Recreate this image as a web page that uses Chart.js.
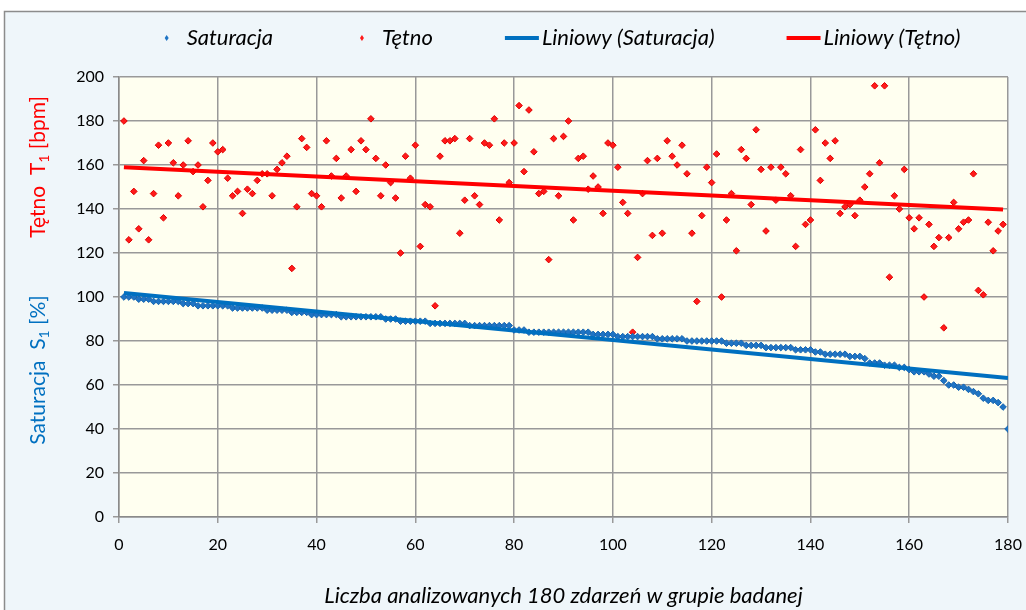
<!DOCTYPE html>
<html>
<head>
<meta charset="utf-8">
<script src="https://cdn.jsdelivr.net/npm/chart.js@4/dist/chart.umd.min.js"></script>
<style>
  html, body { margin: 0; padding: 0; background: #fff; }
</style>
</head>
<body>
<canvas id="myChart" width="1026" height="610"></canvas>
<script>
// numer zdarzenia 1..180
const events = Array.from({ length: 180 }, (_, i) => i + 1);

// Saturacja S1 [%]
const saturacja = [
    100, 100, 100, 99, 99, 99, 98, 98, 98, 98, 98, 98, 97, 97, 97, 96, 96, 96, 96, 96,
    96, 96, 95, 95, 95, 95, 95, 95, 95, 94, 94, 94, 94, 94, 93, 93, 93, 93, 92, 92,
    92, 92, 92, 92, 91, 91, 91, 91, 91, 91, 91, 91, 91, 90, 90, 90, 89, 89, 89, 89,
    89, 89, 88, 88, 88, 88, 88, 88, 88, 88, 87, 87, 87, 87, 87, 87, 87, 87, 87, 85,
    85, 85, 84, 84, 84, 84, 84, 84, 84, 84, 84, 84, 84, 84, 84, 83, 83, 83, 83, 83,
    82, 82, 82, 82, 82, 82, 82, 82, 81, 81, 81, 81, 81, 81, 80, 80, 80, 80, 80, 80,
    80, 80, 79, 79, 79, 79, 78, 78, 78, 78, 77, 77, 77, 77, 77, 77, 76, 76, 76, 76,
    75, 75, 74, 74, 74, 74, 74, 73, 73, 73, 72, 70, 70, 70, 69, 69, 69, 68, 68, 67,
    66, 66, 66, 65, 64, 64, 62, 60, 60, 59, 59, 58, 57, 56, 54, 53, 53, 52, 50, 40
];

// Tętno T1 [bpm]
const tetno = [
    180, 126, 148, 131, 162, 126, 147, 169, 136, 170, 161, 146, 160, 171, 157, 160, 141, 153, 170, 166,
    167, 154, 146, 148, 138, 149, 147, 153, 156, 156, 146, 158, 161, 164, 113, 141, 172, 168, 147, 146,
    141, 171, 155, 163, 145, 155, 167, 148, 171, 167, 181, 163, 146, 160, 152, 145, 120, 164, 154, 169,
    123, 142, 141, 96, 164, 171, 171, 172, 129, 144, 172, 146, 142, 170, 169, 181, 135, 170, 152, 170,
    187, 157, 185, 166, 147, 148, 117, 172, 146, 173, 180, 135, 163, 164, 149, 155, 150, 138, 170, 169,
    159, 143, 138, 84, 118, 147, 162, 128, 163, 129, 171, 164, 160, 169, 156, 129, 98, 137, 159, 152,
    165, 100, 135, 147, 121, 167, 163, 142, 176, 158, 130, 159, 144, 159, 156, 146, 123, 167, 133, 135,
    176, 153, 170, 163, 171, 138, 141, 142, 137, 144, 150, 156, 196, 161, 196, 109, 146, 140, 158, 136,
    131, 136, 100, 133, 123, 127, 86, 127, 143, 131, 134, 135, 156, 103, 101, 134, 121, 130, 133
];

const xTickValues = [0, 20, 40, 60, 80, 100, 120, 140, 160, 180];
const yTickValues = [0, 20, 40, 60, 80, 100, 120, 140, 160, 180, 200];

const FONT = "Lato, 'Open Sans', sans-serif";
const BLUE = '#0070C0';
const RED = '#FF0000';

function points(vals) {
    return vals.map((v, i) => ({ x: events[i], y: v }));
}

// linia trendu (metoda najmniejszych kwadratów), jak "Liniowy" w Excelu
function trend(vals) {
    const n = vals.length;
    let sx = 0, sy = 0, sxx = 0, sxy = 0;
    vals.forEach((v, i) => {
        const x = events[i];
        sx += x; sy += v; sxx += x * x; sxy += x * v;
    });
    const b = (n * sxy - sx * sy) / (n * sxx - sx * sx);
    const a = (sy - b * sx) / n;
    return [{ x: events[0], y: a + b * events[0] }, { x: events[n - 1], y: a + b * events[n - 1] }];
}

const bgPlugin = {
    id: 'bg',
    beforeDraw(chart) {
        const c = chart.ctx, a = chart.chartArea;
        c.save();
        c.fillStyle = '#ffffff';
        c.fillRect(0, 0, chart.width, chart.height);
        c.fillStyle = '#EFF6FA';
        c.fillRect(4, 11, chart.width, chart.height);
        c.strokeStyle = '#8c8c8c';
        c.lineWidth = 1.5;
        c.strokeRect(4.5, 11.5, chart.width + 10, chart.height + 10);
        c.fillStyle = '#FFFFF0';
        c.fillRect(a.left, a.top, a.right - a.left, a.bottom - a.top);
        c.restore();
    }
};

// dwukolorowe tytuły osi Y z indeksem dolnym
function drawSubTitle(c, cx, cy, pre, sub, post, color) {
    c.save();
    c.translate(cx, cy);
    c.rotate(-Math.PI / 2);
    c.fillStyle = color;
    c.textBaseline = 'middle';
    const big = '21px ' + FONT, small = '14px ' + FONT;
    c.font = big;
    const w1 = c.measureText(pre).width, w3 = c.measureText(post).width;
    c.font = small;
    const w2 = c.measureText(sub).width;
    let x = -(w1 + w2 + w3) / 2;
    c.textAlign = 'left';
    c.font = big; c.fillText(pre, x, 0); x += w1;
    c.font = small; c.fillText(sub, x, 6); x += w2;
    c.font = big; c.fillText(post, x, 0);
    c.restore();
}

const axisTitles = {
    id: 'axisTitles',
    afterDraw(chart) {
        const c = chart.ctx;
        drawSubTitle(c, 38, 167, 'Tętno  T', '1', ' [bpm]', RED);
        drawSubTitle(c, 38, 370, 'Saturacja  S', '1', ' [%]', BLUE);
    }
};

const legendBox = {
    id: 'legendBox',
    afterDraw(chart) {
        const c = chart.ctx;
        c.save();
        c.font = 'italic 22px ' + FONT;
        c.textBaseline = 'middle';
        const sym = 34, gapTxt = 3, gapItem = 72, y = 38;
        const items = chart.data.datasets.map(ds => ({ ds, w: sym + gapTxt + c.measureText(ds.label).width }));
        const total = items.reduce((s, it) => s + it.w, 0) + gapItem * (items.length - 1);
        let x = 555 - total / 2;
        items.forEach(it => {
            const ds = it.ds;
            if (ds.showLine) {
                c.strokeStyle = ds.borderColor;
                c.lineWidth = 4;
                c.beginPath();
                c.moveTo(x, y); c.lineTo(x + sym, y);
                c.stroke();
            } else {
                const mx = x + sym / 2;
                c.fillStyle = ds.backgroundColor;
                c.beginPath();
                c.moveTo(mx, y - 3); c.lineTo(mx + 2, y); c.lineTo(mx, y + 3); c.lineTo(mx - 2, y);
                c.closePath();
                c.fill();
            }
            c.fillStyle = '#000';
            c.fillText(ds.label, x + sym + gapTxt, y);
            x += it.w + gapItem;
        });
        c.restore();
    }
};

const config = {
    type: 'scatter',
    data: {
        datasets: [
            {
                label: 'Saturacja',
                data: points(saturacja),
                pointStyle: 'rectRot',
                pointRadius: 3.3,
                backgroundColor: '#1F74C4',
                borderColor: '#1564B0',
                borderWidth: 1,
                order: 2
            },
            {
                label: 'Tętno',
                data: points(tetno),
                pointStyle: 'rectRot',
                pointRadius: 3.3,
                backgroundColor: '#FF1A1A',
                borderColor: '#E00000',
                borderWidth: 1,
                order: 2
            },
            {
                label: 'Liniowy (Saturacja)',
                data: trend(saturacja),
                showLine: true,
                borderColor: BLUE,
                backgroundColor: BLUE,
                borderWidth: 4,
                pointRadius: 0,
                order: 1
            },
            {
                label: 'Liniowy (Tętno)',
                data: trend(tetno),
                showLine: true,
                borderColor: RED,
                backgroundColor: RED,
                borderWidth: 4,
                pointRadius: 0,
                order: 0
            }
        ]
    },
    options: {
        responsive: false,
        animation: false,
        events: [],
        layout: { padding: { top: 77, right: 18, bottom: 0, left: 0 } },
        plugins: {
            legend: { display: false },
            tooltip: { enabled: false }
        },
        scales: {
            x: {
                type: 'linear',
                min: 0,
                max: 180,
                afterBuildTicks: s => { s.ticks = xTickValues.map(v => ({ value: v })); },
                afterFit: s => { s.height = 93; s.paddingLeft = 0; s.paddingRight = 0; },
                ticks: { color: '#000', font: { family: FONT, size: 16 }, padding: 12, maxRotation: 0 },
                grid: { color: '#999999', lineWidth: 1.5, tickLength: 6 },
                border: { color: '#8a8a8a', width: 1.5 },
                title: {
                    display: true,
                    text: 'Liczba analizowanych 180 zdarzeń w grupie badanej',
                    color: '#000',
                    font: { family: FONT, size: 22, style: 'italic' },
                    padding: { top: 0, bottom: 1 }
                }
            },
            y: {
                type: 'linear',
                min: 0,
                max: 200,
                afterBuildTicks: s => { s.ticks = yTickValues.map(v => ({ value: v })); },
                afterFit: s => { s.width = 119; s.paddingTop = 0; s.paddingBottom = 0; },
                ticks: { color: '#000', font: { family: FONT, size: 16 }, padding: 9 },
                grid: { color: '#999999', lineWidth: 1.5, tickLength: 6 },
                border: { color: '#8a8a8a', width: 1.5 }
            }
        }
    },
    plugins: [bgPlugin, axisTitles, legendBox]
};

new Chart(document.getElementById('myChart').getContext('2d'), config);
</script>
</body>
</html>
